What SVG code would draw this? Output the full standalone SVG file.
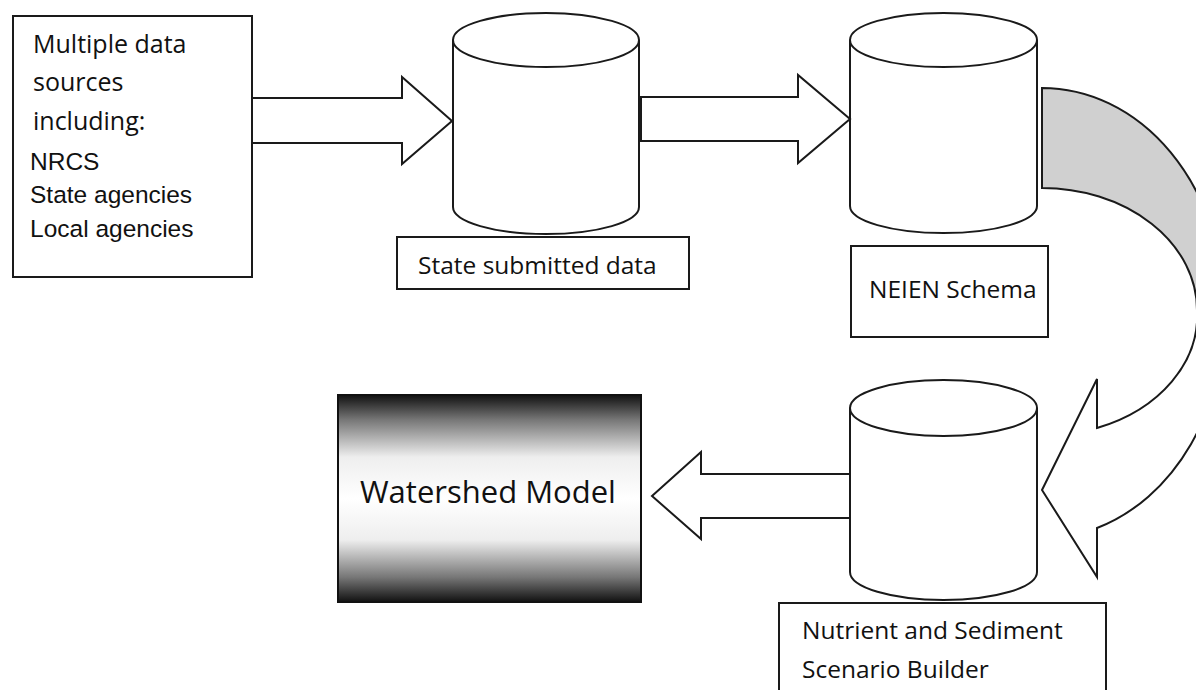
<svg xmlns="http://www.w3.org/2000/svg" width="1196" height="690" viewBox="0 0 1196 690">
  <defs>
    <linearGradient id="wsGrad" x1="0" y1="0" x2="0" y2="1">
      <stop offset="0" stop-color="#111"/>
      <stop offset="0.12" stop-color="#777"/>
      <stop offset="0.3" stop-color="#eee"/>
      <stop offset="0.5" stop-color="#fff"/>
      <stop offset="0.7" stop-color="#eee"/>
      <stop offset="0.88" stop-color="#777"/>
      <stop offset="1" stop-color="#111"/>
    </linearGradient>
    <style>
      .box { fill: #fff; stroke: #1a1a1a; stroke-width: 2; }
      .cyl { fill: #fff; stroke: #1a1a1a; stroke-width: 2; stroke-linejoin: round; }
      .arrow { fill: #fff; stroke: #1a1a1a; stroke-width: 2; stroke-linejoin: miter; }
      .lbl { font-family: "Open Sans", "Noto Sans", sans-serif; font-size: 24.5px; fill: #111; }
      .list { font-family: "Liberation Sans", Arial, sans-serif; font-size: 24.5px; fill: #111; }
    </style>
  </defs>
  <rect width="1196" height="690" fill="#fff"/>

  <!-- data sources -->
  <g id="sources">
    <rect class="box" x="13" y="16" width="239" height="261"/>
    <text class="lbl" x="33" y="53" style="font-size:25px">Multiple data</text>
    <text class="lbl" x="33" y="91" style="font-size:25px">sources</text>
    <text class="lbl" x="33" y="130" style="font-size:25px">including:</text>
    <text class="list" x="30" y="170">NRCS</text>
    <text class="list" x="30" y="203">State agencies</text>
    <text class="list" x="30" y="237">Local agencies</text>
  </g>

  <!-- state submitted data -->
  <g id="state-db">
    <path class="cyl" d="M453,40 A93,27 0 0 1 639,40 L639,207 A93,27 0 0 1 453,207 Z"/>
    <path class="cyl" fill="none" d="M453,40 A93,27 0 0 0 639,40"/>
  </g>
  <g id="state-label">
    <rect class="box" x="397" y="237" width="292" height="52"/>
    <text class="lbl" x="418" y="274">State submitted data</text>
  </g>

  <!-- NEIEN schema -->
  <g id="neien-db">
    <path class="cyl" d="M850,40 A93.5,27 0 0 1 1037,40 L1037,206 A93.5,27 0 0 1 850,206 Z"/>
    <path class="cyl" fill="none" d="M850,40 A93.5,27 0 0 0 1037,40"/>
  </g>
  <g id="neien-label">
    <rect class="box" x="851" y="246" width="197" height="91"/>
    <text class="lbl" x="869" y="298">NEIEN Schema</text>
  </g>

  <!-- scenario builder -->
  <g id="nssb-db">
    <path class="cyl" d="M850,408 A93.5,28 0 0 1 1037,408 L1037,572 A93.5,28 0 0 1 850,572 Z"/>
    <path class="cyl" fill="none" d="M850,408 A93.5,28 0 0 0 1037,408"/>
  </g>
  <g id="nssb-label">
    <rect class="box" x="779" y="603" width="327" height="100"/>
    <text class="lbl" x="802" y="639">Nutrient and Sediment</text>
    <text class="lbl" x="802" y="678">Scenario Builder</text>
  </g>

  <!-- watershed model -->
  <g id="watershed">
    <rect x="338" y="395" width="303" height="207" fill="url(#wsGrad)" stroke="#111" stroke-width="2"/>
    <text class="lbl" x="360" y="503" style="font-size:31px">Watershed Model</text>
  </g>

  <!-- block arrows -->
  <g id="connectors">
    <polygon class="arrow" points="252,98 402,98 402,77 452,121 402,164 402,143 252,143"/>
    <polygon class="arrow" points="641,97 798,97 798,75 850,119 798,163 798,141 641,141"/>
    <polygon class="arrow" points="850,474 701,474 701,452 652,496 701,539 701,518 850,518"/>
    <g id="curved-arrow">
      <path fill="#fff" d="M1042,88 A182,220 0 0 1 1224,308 A182,222 0 0 1 1097,528 L1097,577 L1042,490 L1097,379 L1097,428 A155,120 0 0 0 1197,310 A155,122 0 0 0 1042,188 Z"/>
      <path fill="#d0d0d0" d="M1042,88 A182,220 0 0 1 1224,308 L1197,310 A155,122 0 0 0 1042,188 Z"/>
      <path fill="none" stroke="#1a1a1a" stroke-width="2" stroke-linejoin="miter" d="M1042,88 A182,220 0 0 1 1224,308 A182,222 0 0 1 1097,528 L1097,577 L1042,490 L1097,379 L1097,428 A155,120 0 0 0 1197,310 A155,122 0 0 0 1042,188 Z"/>
    </g>
  </g>
</svg>
